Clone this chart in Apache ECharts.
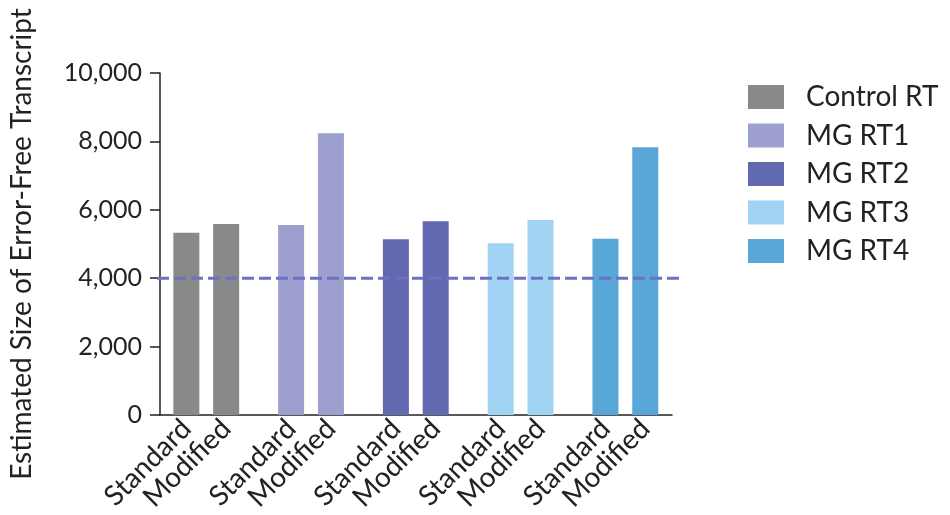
<!DOCTYPE html>
<html>
<head>
<meta charset="utf-8">
<script src="https://cdn.jsdelivr.net/npm/echarts@6/dist/echarts.min.js"></script>
<style>
  html, body { margin: 0; padding: 0; background: #fff; }
  #chart { width: 950px; height: 515px; }
</style>
</head>
<body>
<div id="chart"></div>
<script>
// ---- data ----
var groups = ['Control RT', 'MG RT1', 'MG RT2', 'MG RT3', 'MG RT4'];
var conditions = ['Standard', 'Modified'];
var standardValues = [5330, 5556, 5136, 5019, 5156];
var modifiedValues = [5585, 8236, 5663, 5702, 7826];
var thresholdValue = 4000;
var colors = ['#898989', '#9d9fcf', '#6369b0', '#a1d4f3', '#59a7d9'];

// ---- layout helpers ----
var pairOffset = 0.19; // half-distance between the two bars of a group (in group units)
function xPos(g, c) { return g + (c === 0 ? -pairOffset : pairOffset); }

var tickPositions = [];
var tickNames = [];
groups.forEach(function (g, gi) {
  conditions.forEach(function (c, ci) {
    tickPositions.push(xPos(gi, ci));
    tickNames.push(c);
  });
});
function nameFor(v) {
  var best = 0, bd = Infinity;
  for (var i = 0; i < tickPositions.length; i++) {
    var d = Math.abs(tickPositions[i] - v);
    if (d < bd) { bd = d; best = i; }
  }
  return tickNames[best];
}

var FONT = 'Lato';
var series = groups.map(function (g, gi) {
  return {
    name: g,
    type: 'bar',
    xAxisIndex: 0,
    yAxisIndex: 0,
    barWidth: 26,
    barGap: '-100%',
    itemStyle: { color: colors[gi] },
    data: [
      [xPos(gi, 0), standardValues[gi]],
      [xPos(gi, 1), modifiedValues[gi]]
    ],
    z: 2
  };
});
series.push({
  name: 'threshold',
  type: 'line',
  xAxisIndex: 1,
  yAxisIndex: 1,
  symbol: 'none',
  silent: true,
  lineStyle: { color: '#6c71c1', width: 3, type: [12, 5] },
  data: [[0, thresholdValue], [1, thresholdValue]],
  z: 5
});

var chart = echarts.init(document.getElementById('chart'), null, { renderer: 'canvas' });
chart.setOption({
  animation: false,
  textStyle: { fontFamily: FONT },
  grid: [
    { left: 157, top: 73, width: 515, bottom: 100, containLabel: false },
    { left: 157, top: 73, width: 525, bottom: 100, containLabel: false }
  ],
  legend: {
    orient: 'vertical',
    left: 743,
    top: 78,
    itemWidth: 36,
    itemHeight: 24,
    itemGap: 10.5,
    icon: 'rect',
    data: groups,
    textStyle: { fontSize: 28, color: '#222', fontFamily: FONT, lineHeight: 24, padding: [0, 0, 0, 17] }
  },
  xAxis: [
    {
      type: 'value',
      gridIndex: 0,
      min: -0.4414,
      max: 4.445,
      axisLine: { show: true, onZero: false, lineStyle: { color: '#222', width: 1.5 } },
      axisTick: { show: false },
      splitLine: { show: false },
      axisLabel: {
        customValues: tickPositions,
        rotate: 45,
        margin: 9,
        fontSize: 28,
        color: '#222',
        fontFamily: FONT,
        formatter: function (v) { return nameFor(v); }
      }
    },
    {
      type: 'value',
      gridIndex: 1,
      min: 0,
      max: 1,
      show: false
    }
  ],
  yAxis: [
    {
      type: 'value',
      gridIndex: 0,
      min: 0,
      max: 10000,
      interval: 2000,
      name: 'Estimated Size of Error-Free Transcript',
      nameLocation: 'middle',
      nameGap: 124,
      nameTextStyle: { fontSize: 28, color: '#222', fontFamily: FONT },
      axisLine: { show: true, onZero: false, lineStyle: { color: '#222', width: 1.5 } },
      axisTick: { show: true, length: 10, lineStyle: { color: '#222', width: 1.5 } },
      splitLine: { show: false },
      axisLabel: {
        fontSize: 25,
        color: '#222',
        margin: 18,
        fontFamily: FONT,
        formatter: function (v) { return v.toLocaleString('en-US'); }
      }
    },
    {
      type: 'value',
      gridIndex: 1,
      min: 0,
      max: 10000,
      show: false
    }
  ],
  series: series
});
</script>
</body>
</html>
